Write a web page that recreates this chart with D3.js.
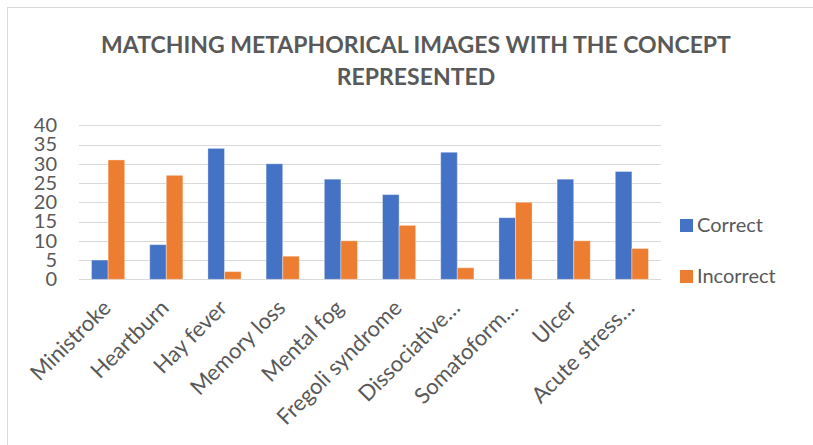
<!DOCTYPE html>
<html>
<head>
<meta charset="utf-8">
<script src="https://cdn.jsdelivr.net/npm/d3@7/dist/d3.min.js"></script>
<style>
  html, body { margin: 0; padding: 0; background: #fff; }
  svg { display: block; }
  text { font-family: Lato, "Open Sans", sans-serif; fill: #595959; }
</style>
</head>
<body>
<svg id="chart" width="813" height="445"></svg>
<script>
// Chart data
const categories = ["Ministroke", "Heartburn", "Hay fever", "Memory loss", "Mental fog",
  "Fregoli syndrome", "Dissociative…", "Somatoform…", "Ulcer", "Acute stress…"];
const seriesNames = ["Correct", "Incorrect"];
const correct = [5, 9, 34, 30, 26, 22, 33, 16, 26, 28];
const incorrect = [31, 27, 2, 6, 10, 14, 3, 20, 10, 8];
const yTicks = [0, 5, 10, 15, 20, 25, 30, 35, 40];
const titleLines = ["MATCHING METAPHORICAL IMAGES WITH THE CONCEPT", "REPRESENTED"];

const colors = ["#4472C4", "#ED7D31"];
const series = [correct, incorrect];

const svg = d3.select("#chart");
const W = 813, H = 445;
const plot = { left: 79, right: 661, top: 125.3, bottom: 279.3 };

// Chart frame (only top and left edges fall inside the view)
svg.append("rect")
  .attr("x", 7.5).attr("y", 7.5)
  .attr("width", W).attr("height", H)
  .attr("fill", "none").attr("stroke", "#d9d9d9").attr("stroke-width", 1);

// Title
const title = svg.append("g");
titleLines.forEach((line, i) => {
  title.append("text")
    .attr("x", 416).attr("y", 53 + i * 32)
    .attr("text-anchor", "middle")
    .attr("font-weight", "bold")
    .attr("font-size", 23)
    .text(line);
});

const x = d3.scaleBand().domain(categories)
  .range([plot.left, plot.right])
  .paddingInner(0.43).paddingOuter(0.215);
const xs = d3.scaleBand().domain(seriesNames).range([0, x.bandwidth()]);
const y = d3.scaleLinear().domain([0, 40]).range([plot.bottom, plot.top]);

// Gridlines
svg.append("g").selectAll("line").data(yTicks).join("line")
  .attr("x1", plot.left).attr("x2", plot.right)
  .attr("y1", d => Math.round(y(d)) + 0.5).attr("y2", d => Math.round(y(d)) + 0.5)
  .attr("stroke", "#d9d9d9").attr("stroke-width", 1);

// Y axis labels
const yAxis = d3.axisLeft(y).tickValues(yTicks).tickSize(0).tickPadding(0);
const yg = svg.append("g").attr("transform", `translate(57,0)`).call(yAxis);
yg.select(".domain").remove();
yg.selectAll("text").attr("font-size", 20).attr("fill", "#595959")
  .style("font-family", "Lato, sans-serif");

// Bars
const groups = svg.append("g").selectAll("g").data(categories).join("g")
  .attr("transform", d => `translate(${x(d)},0)`);
groups.selectAll("rect")
  .data((d, i) => seriesNames.map((s, k) => ({ s, v: series[k][i], k })))
  .join("rect")
  .attr("x", d => xs(d.s))
  .attr("width", xs.bandwidth())
  .attr("y", d => y(d.v))
  .attr("height", d => y(0) - y(d.v))
  .attr("fill", d => colors[d.k])
  .attr("stroke", "#ffffff").attr("stroke-opacity", 0.35).attr("stroke-width", 1);

// Category labels
const xAxis = d3.axisBottom(x).tickSize(0).tickPadding(0);
const xg = svg.append("g").attr("transform", `translate(0,${plot.bottom})`).call(xAxis);
xg.select(".domain").remove();
xg.selectAll("text")
  .attr("font-size", 22).attr("fill", "#595959")
  .style("font-family", "Lato, sans-serif")
  .attr("text-anchor", "end")
  .attr("dy", null).attr("y", 0)
  .attr("transform", "translate(4,30) rotate(-45)");

// Legend
const legend = svg.append("g").selectAll("g").data(seriesNames).join("g")
  .attr("transform", (d, i) => `translate(680,${219 + i * 51})`);
legend.append("rect").attr("width", 13).attr("height", 13)
  .attr("fill", (d, i) => colors[i]);
legend.append("text").attr("x", 17).attr("y", 13)
  .attr("font-size", 20).text(d => d);
</script>
</body>
</html>
